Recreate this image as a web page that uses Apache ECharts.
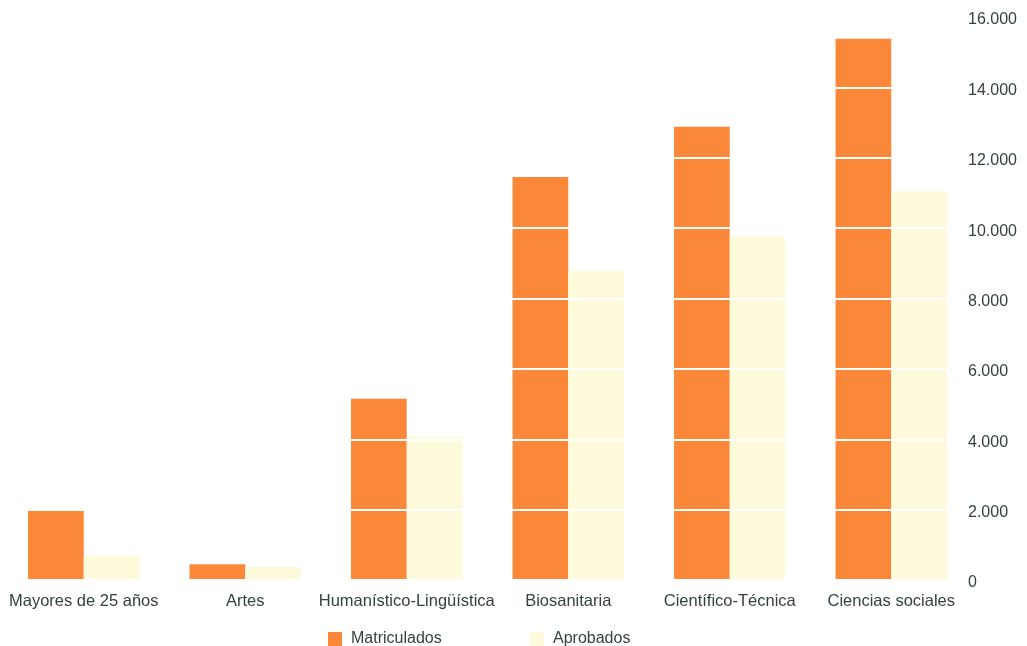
<!DOCTYPE html>
<html>
<head>
<meta charset="utf-8">
<script src="https://cdn.jsdelivr.net/npm/echarts@6/dist/echarts.min.js"></script>
<style>html,body{margin:0;padding:0;background:#fff;}#c{width:1027px;height:646px;}</style>
</head>
<body>
<div id="c"></div>
<script>
const categories = ['Mayores de 25 años', 'Artes', 'Humanístico-Lingüística', 'Biosanitaria', 'Científico-Técnica', 'Ciencias sociales'];
const matriculados = [2020, 450, 5150, 11450, 12880, 15380];
const aprobados = [680, 370, 4070, 8790, 9760, 11050];
const yTicks = [0, 2000, 4000, 6000, 8000, 10000, 12000, 14000, 16000];

const chart = echarts.init(document.getElementById('c'), null, {renderer: 'canvas'});
const font = 'Liberation Sans, Arial, sans-serif';
const txt = '#34423a';
chart.setOption({
  animation: false,
  backgroundColor: '#ffffff',
  textStyle: {fontFamily: font},
  grid: {left: 3, right: 55, top: 17, bottom: 66, containLabel: false},
  legend: [
    {data: ['Matriculados'], left: 328, top: 631, padding: 0, itemWidth: 14, itemHeight: 14, icon: 'rect', itemGap: 8,
     textStyle: {fontFamily: font, fontSize: 16, color: txt, padding: [0, 0, 0, 4]}},
    {data: ['Aprobados'], left: 530, top: 631, padding: 0, itemWidth: 14, itemHeight: 14, icon: 'rect', itemGap: 8,
     textStyle: {fontFamily: font, fontSize: 16, color: txt, padding: [0, 0, 0, 4]}}
  ],
  xAxis: {
    type: 'category', data: categories,
    axisLine: {show: false}, axisTick: {show: false},
    axisLabel: {fontFamily: font, fontSize: 16.5, color: txt, margin: 13, interval: 0}
  },
  yAxis: {
    type: 'value', position: 'right', min: yTicks[0], max: yTicks[yTicks.length - 1], interval: 2000,
    z: 10,
    axisLine: {show: false}, axisTick: {show: false},
    splitLine: {show: true, lineStyle: {color: '#ffffff', width: 2}},
    axisLabel: {fontFamily: font, fontSize: 16, color: txt, margin: -4, align: 'left',
      formatter: v => '{a|' + (v === 0 ? '0' : String(v).replace(/\B(?=(\d{3})+(?!\d))/g, '.')) + '}',
      rich: {a: {fontFamily: font, fontSize: 16, color: txt, padding: [6, 0, 0, 0]}}}
  },
  series: [
    {name: 'Matriculados', type: 'bar', data: matriculados, barGap: '0%', barCategoryGap: '31%',
     itemStyle: {color: '#FA8838'}, z: 2},
    {name: 'Aprobados', type: 'bar', data: aprobados, barGap: '0%', barCategoryGap: '31%',
     itemStyle: {color: '#FEFADC'}, z: 2}
  ]
});
</script>
</body>
</html>
